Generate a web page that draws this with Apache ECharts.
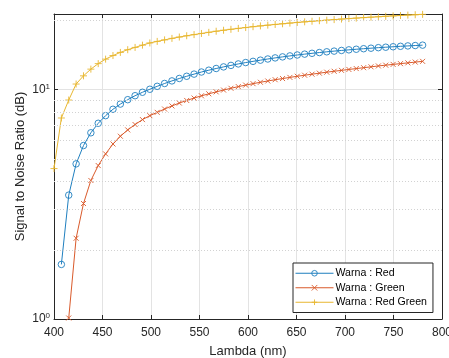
<!DOCTYPE html>
<html>
<head>
<meta charset="utf-8">
<script src="https://cdn.jsdelivr.net/npm/echarts@6/dist/echarts.min.js"></script>
<style>
  html, body { margin: 0; padding: 0; background: #fff; }
  #chart { width: 449px; height: 358px; }
</style>
</head>
<body>
<div id="chart"></div>
<script>
// wavelength grid (nm)
const lambda = [
  400, 407.6, 415.2, 422.8, 430.4, 438, 445.6, 453.2, 460.8, 468.4,
  476, 483.6, 491.2, 498.8, 506.4, 514, 521.6, 529.2, 536.8, 544.4,
  552, 559.6, 567.2, 574.8, 582.4, 590, 597.6, 605.2, 612.8, 620.4,
  628, 635.6, 643.2, 650.8, 658.4, 666, 673.6, 681.2, 688.8, 696.4,
  704, 711.6, 719.2, 726.8, 734.4, 742, 749.6, 757.2, 764.8, 772.4, 780
];

// SNR (dB) per colour, null where the value falls below the axis
const snrRed = [
  null, 1.73, 3.47, 4.75, 5.71, 6.49, 7.14, 7.71, 8.22, 8.66,
  9.05, 9.42, 9.75, 10.05, 10.35, 10.65, 10.93, 11.2, 11.45, 11.7,
  11.95, 12.17, 12.38, 12.58, 12.77, 12.96, 13.14, 13.3, 13.46, 13.62,
  13.77, 13.91, 14.05, 14.18, 14.3, 14.42, 14.53, 14.64, 14.74, 14.84,
  14.93, 15.02, 15.1, 15.18, 15.26, 15.33, 15.4, 15.47, 15.53, 15.59, 15.65
];
const snrGreen = [
  null, null, 1.01, 2.25, 3.19, 4.02, 4.67, 5.25, 5.8, 6.27,
  6.68, 7.05, 7.41, 7.71, 7.97, 8.24, 8.5, 8.75, 8.98, 9.2,
  9.41, 9.6, 9.79, 9.97, 10.15, 10.32, 10.48, 10.63, 10.78, 10.92,
  11.06, 11.19, 11.32, 11.45, 11.57, 11.69, 11.81, 11.93, 12.04, 12.15,
  12.26, 12.37, 12.48, 12.59, 12.7, 12.8, 12.9, 13.0, 13.1, 13.2, 13.3
];
const snrRedGreen = [
  4.53, 7.53, 9.02, 10.59, 11.5, 12.3, 13.0, 13.6, 14.1, 14.55,
  14.95, 15.3, 15.65, 16.0, 16.25, 16.5, 16.75, 16.98, 17.2, 17.4,
  17.6, 17.8, 18.0, 18.18, 18.35, 18.52, 18.68, 18.84, 18.99, 19.13,
  19.27, 19.4, 19.53, 19.66, 19.78, 19.9, 20.01, 20.12, 20.23, 20.34,
  20.44, 20.54, 20.64, 20.73, 20.82, 20.91, 21.0, 21.08, 21.16, 21.24, 21.32
];

const legendNames = ["Warna : Red", "Warna : Green", "Warna : Red Green"];
const minorTicks = [2, 3, 4, 5, 6, 7, 8, 9, 20];

const FONT = "Liberation Sans, Arial, sans-serif";
const INK = "#262626";
const GRID = "#e3e3e3";
const BLUE = "#1f7fbf";
const ORANGE = "#d95a2b";
const YELLOW = "#e8b730";

const pair = (ys) => lambda.map((x, i) => [x, ys[i]]);

const chart = echarts.init(document.getElementById("chart"), null, { renderer: "canvas" });

const hiddenAxisBits = {
  axisLine: { show: true, lineStyle: { color: INK, width: 1 } },
  axisTick: { show: true, inside: true, length: 4, lineStyle: { color: INK } },
  axisLabel: { show: false },
  splitLine: { show: false },
};

function lineSeries(name, ys, symbol, size, color) {
  return {
    name,
    type: "line",
    data: pair(ys),
    symbol,
    symbolSize: size,
    color,
    lineStyle: { width: 1, color },
    itemStyle: { color: "rgba(0,0,0,0)", borderColor: color, borderWidth: 0.9 },
    emphasis: { disabled: true },
  };
}

chart.setOption({
  animation: false,
  textStyle: { fontFamily: FONT },
  grid: { left: 54, right: 7, top: 14, bottom: 39, containLabel: false, outerBoundsMode: "none" },
  legend: {
    data: legendNames,
    orient: "vertical",
    left: 293,
    top: 263,
    backgroundColor: "#fff",
    borderColor: INK,
    borderWidth: 1,
    borderRadius: 0,
    padding: [3, 6, 3, 2],
    itemGap: 0,
    itemWidth: 38,
    itemHeight: 7,
    itemStyle: { borderWidth: 0.9 },
    lineStyle: { width: 1 },
    textStyle: { fontSize: 10.6, lineHeight: 14.5, color: "#000", fontFamily: FONT, padding: [0, 0, 0, -3] },
  },
  xAxis: [
    {
      type: "value",
      min: 400,
      max: 800,
      interval: 50,
      name: "Lambda (nm)",
      nameLocation: "middle",
      nameGap: 26,
      nameMoveOverlap: false,
      nameTextStyle: { fontSize: 13, color: INK, fontFamily: FONT },
      axisLine: { show: true, onZero: false, lineStyle: { color: INK, width: 1 } },
      axisTick: { show: true, inside: true, length: 4, lineStyle: { color: INK } },
      axisLabel: { fontSize: 12, color: INK, margin: 8, fontFamily: FONT },
      splitLine: { show: true, lineStyle: { color: GRID, width: 1 } },
    },
    Object.assign({ type: "value", position: "top", min: 400, max: 800, interval: 50 }, hiddenAxisBits),
  ],
  yAxis: [
    {
      type: "log",
      logBase: 10,
      min: 1,
      max: 21.4,
      name: "Signal to Noise Ratio (dB)",
      nameLocation: "middle",
      nameGap: 27,
      nameMoveOverlap: false,
      nameTextStyle: { fontSize: 13, color: INK, fontFamily: FONT },
      axisLine: { show: true, onZero: false, lineStyle: { color: INK, width: 1 } },
      axisTick: { show: true, inside: true, length: 4, lineStyle: { color: INK } },
      axisLabel: {
        color: INK,
        margin: 4,
        fontFamily: FONT,
        formatter: (v) => {
          const p = Math.log10(v);
          if (Math.abs(p - Math.round(p)) > 1e-6) return "";
          return "{b|10}{s|" + Math.round(p) + "}";
        },
        rich: {
          b: { fontSize: 12, color: INK, fontFamily: FONT },
          s: { fontSize: 8, color: INK, fontFamily: FONT, verticalAlign: "top", padding: [0, 0, 6, 0] },
        },
      },
      splitLine: { show: true, lineStyle: { color: GRID, width: 1 } },
    },
    Object.assign({ type: "log", logBase: 10, min: 1, max: 21.4, position: "right" }, hiddenAxisBits),
  ],
  series: [
    {
      name: "minor-grid",
      type: "line",
      data: [],
      silent: true,
      markLine: {
        silent: true,
        symbol: ["none", "none"],
        label: { show: false },
        lineStyle: { type: [1, 2], color: "#d2d2d2", width: 1 },
        data: minorTicks.map((v) => ({ yAxis: v })),
      },
    },
    lineSeries(legendNames[0], snrRed, "circle", 6.5, BLUE),
    lineSeries(legendNames[1], snrGreen, "path://M0,0L10,10M10,0L0,10", 5, ORANGE),
    lineSeries(legendNames[2], snrRedGreen, "path://M5,0L5,10M0,5L10,5", 7, YELLOW),
  ],
});
</script>
</body>
</html>
